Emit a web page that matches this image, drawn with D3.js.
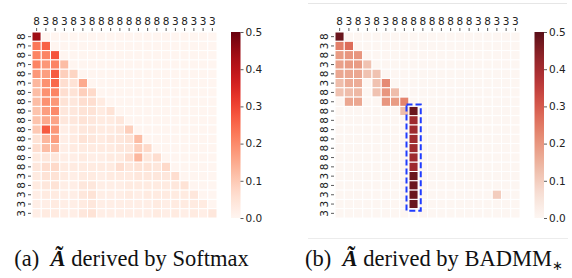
<!DOCTYPE html>
<html>
<head>
<meta charset="utf-8">
<script src="https://cdn.jsdelivr.net/npm/d3@7"></script>
<style>
  body { margin: 0; background: #fff; }
  svg { display: block; }
  text { font-family: "DejaVu Sans", sans-serif; }
</style>
</head>
<body>
<script>

// tick labels (same on both axes)
var labels = ["8","3","8","3","8","3","8","8","8","8","8","8","8","8","8","3","8","3","3","3"];
var cbTicks = [0, 0.1, 0.2, 0.3, 0.4, 0.5];

// (a) softmax: lower triangle, row i holds columns 0..i (cells above are 0)
var softmaxRows = [
  [0.44],
  [0.23,0.26],
  [0.21,0.21,0.28],
  [0.21,0.18,0.21,0.12],
  [0.18,0.17,0.27,0.09,0.08],
  [0.13,0.19,0.25,0.06,0.05,0.15],
  [0.12,0.19,0.21,0.06,0.05,0.09,0.07],
  [0.12,0.19,0.18,0.05,0.04,0.06,0.06,0.03],
  [0.11,0.17,0.20,0.04,0.04,0.05,0.05,0.03,0.05],
  [0.11,0.15,0.16,0.04,0.04,0.05,0.04,0.03,0.03,0.04],
  [0.10,0.27,0.18,0.02,0.03,0.04,0.04,0.03,0.03,0.04,0.09],
  [0.05,0.13,0.17,0.02,0.03,0.05,0.04,0.03,0.04,0.04,0.05,0.12],
  [0.06,0.12,0.13,0.02,0.03,0.03,0.03,0.03,0.03,0.04,0.04,0.09,0.07],
  [0.03,0.04,0.04,0.02,0.02,0.03,0.02,0.02,0.03,0.03,0.06,0.13,0.04,0.06],
  [0.04,0.06,0.07,0.03,0.03,0.03,0.03,0.03,0.03,0.06,0.04,0.05,0.05,0.04,0.07],
  [0.03,0.05,0.05,0.03,0.02,0.03,0.03,0.02,0.03,0.03,0.03,0.04,0.04,0.04,0.04,0.06],
  [0.03,0.04,0.05,0.02,0.02,0.04,0.04,0.02,0.02,0.02,0.03,0.03,0.03,0.03,0.03,0.04,0.05],
  [0.02,0.03,0.03,0.02,0.02,0.04,0.05,0.02,0.02,0.02,0.03,0.02,0.03,0.03,0.03,0.03,0.03,0.04],
  [0.02,0.02,0.03,0.02,0.02,0.03,0.04,0.02,0.02,0.02,0.02,0.02,0.02,0.03,0.02,0.03,0.03,0.03,0.03],
  [0.02,0.03,0.03,0.02,0.02,0.04,0.05,0.02,0.02,0.02,0.02,0.02,0.02,0.03,0.02,0.03,0.02,0.03,0.02,0.04]
];

// (b) BADMM: non-zero cells only [row, col, value]
var badmmCells = [
  [0,0,0.48],
  [1,0,0.24],[1,1,0.27],
  [2,0,0.19],[2,1,0.20],[2,2,0.20],
  [3,0,0.18],[3,1,0.19],[3,2,0.19],[3,3,0.12],
  [4,0,0.17],[4,1,0.17],[4,2,0.17],[4,3,0.12],[4,4,0.12],
  [5,0,0.13],[5,1,0.16],[5,2,0.16],[5,4,0.12],[5,5,0.22],
  [6,0,0.12],[6,1,0.13],[6,2,0.14],[6,4,0.12],[6,5,0.20],[6,6,0.13],
  [7,1,0.17],[7,2,0.17],[7,5,0.20],[7,6,0.19],[7,7,0.23],
  [8,7,0.13],[8,8,0.48],
  [9,8,0.41],[10,8,0.41],[11,8,0.41],[12,8,0.41],[13,8,0.41],[14,8,0.41],
  [15,8,0.48],[16,8,0.48],[17,8,0.48],[18,8,0.48],
  [17,17,0.10]
];

var w = 572, h = 278;
var svg = d3.select("body").append("svg").attr("width", w).attr("height", h);

var colorA = d3.scaleSequential(d3.interpolateReds).domain([0, 0.5]);
// panel (b) was printed with a slightly muted Reds map
var colorB = function(v) {
  var c = d3.hsl(colorA(v));
  c.s *= 0.72;
  return c.formatHex();
};
var n = labels.length;
var idx = d3.range(n);

function cellsA() {
  var out = [];
  idx.forEach(function(r) {
    idx.forEach(function(c) {
      out.push({r: r, c: c, v: c <= r ? softmaxRows[r][c] : 0});
    });
  });
  return out;
}
function cellsB() {
  var grid = {};
  badmmCells.forEach(function(d) { grid[d[0] + "_" + d[1]] = d[2]; });
  var out = [];
  idx.forEach(function(r) {
    idx.forEach(function(c) {
      out.push({r: r, c: c, v: grid[r + "_" + c] || 0});
    });
  });
  return out;
}

function drawPanel(x0, cells, cbX, color) {
  var g = svg.append("g");
  var x = d3.scaleBand().domain(idx).range([x0, x0 + 185]);
  var y = d3.scaleBand().domain(idx).range([32, 218]);

  g.selectAll("rect.cell").data(cells).enter().append("rect")
    .attr("class", "cell")
    .attr("x", function(d) { return x(d.c); })
    .attr("y", function(d) { return y(d.r); })
    .attr("width", x.bandwidth())
    .attr("height", y.bandwidth())
    .attr("fill", function(d) { return color(d.v); })
    .attr("stroke", "#fff")
    .attr("stroke-width", 1);

  var xa = g.append("g").attr("transform", "translate(0,31)")
    .call(d3.axisTop(x).tickSize(3).tickPadding(3).tickFormat(function(i) { return labels[i]; }));
  var ya = g.append("g").attr("transform", "translate(" + (x0 - 1) + ",0)")
    .call(d3.axisLeft(y).tickSize(3).tickPadding(3).tickFormat(function(i) { return labels[i]; }));
  [xa, ya].forEach(function(a) {
    a.select(".domain").remove();
    a.selectAll("line").attr("stroke", "#333").attr("stroke-width", 0.8);
    a.selectAll("text").attr("font-size", 10.5).attr("fill", "#222")
      .style("font-family", "DejaVu Sans");
  });
  ya.selectAll("text")
    .attr("text-anchor", "middle")
    .attr("x", null)
    .attr("transform", "translate(-10,0) rotate(-90)")
    .attr("dy", "0.35em");

  // colorbar
  var gid = "grad" + x0;
  var grad = svg.append("defs").append("linearGradient").attr("id", gid)
    .attr("x1", 0).attr("y1", 1).attr("x2", 0).attr("y2", 0);
  d3.range(0, 1.0001, 0.05).forEach(function(t) {
    grad.append("stop").attr("offset", t).attr("stop-color", color(t * 0.5));
  });
  var cy = d3.scaleLinear().domain([0, 0.5]).range([218, 32]);
  svg.append("rect").attr("x", cbX).attr("y", 32).attr("width", 9.5).attr("height", 186)
    .attr("fill", "url(#" + gid + ")");
  var ca = svg.append("g").attr("transform", "translate(" + (cbX + 9.5) + ",0)")
    .call(d3.axisRight(cy).tickValues(cbTicks).tickSize(3).tickPadding(2).tickFormat(d3.format(".1f")));
  ca.select(".domain").remove();
  ca.selectAll("line").attr("stroke", "#333").attr("stroke-width", 0.8);
  ca.selectAll("text").attr("font-size", 10.5).attr("fill", "#222").style("font-family", "DejaVu Sans");
  return {x: x, y: y};
}

drawPanel(32, cellsA(), 231, colorA);
var pb = drawPanel(335, cellsB(), 534.5, colorB);

// dashed highlight around column 8 in (b)
svg.append("rect")
  .attr("x", pb.x(8) - 2.5).attr("y", pb.y(8) - 2)
  .attr("width", pb.x.bandwidth() + 5).attr("height", pb.y(18) + pb.y.bandwidth() - pb.y(8) + 4)
  .attr("fill", "none").attr("stroke", "#1f3cff").attr("stroke-width", 2)
  .attr("stroke-dasharray", "6,3");

// faint frame lines of panel (b)
svg.append("line").attr("x1", 308).attr("x2", 567).attr("y1", 3.5).attr("y2", 3.5)
  .attr("stroke", "#e6e6e6").attr("stroke-width", 1);
svg.append("line").attr("x1", 308).attr("x2", 568).attr("y1", 238.5).attr("y2", 238.5)
  .attr("stroke", "#ececec").attr("stroke-width", 1);

// captions
function caption(cx, tag, tail, sub) {
  var t = svg.append("text").attr("x", cx).attr("y", 266).attr("text-anchor", "middle")
    .style("font-family", "Liberation Serif, Times New Roman, serif").attr("font-size", 22.5).attr("fill", "#111");
  t.append("tspan").text(tag + "\u00a0\u00a0");
  t.append("tspan").attr("font-weight", "bold").attr("font-style", "italic").text("\u00c3");
  t.append("tspan").text(" " + tail);
  if (sub) t.append("tspan").attr("font-size", 13).attr("dy", 4).text(sub);
}
caption(131.5, "(a)", "derived by Softmax");
caption(434, "(b)", "derived by BADMM", "\u2217");

</script>
</body>
</html>
